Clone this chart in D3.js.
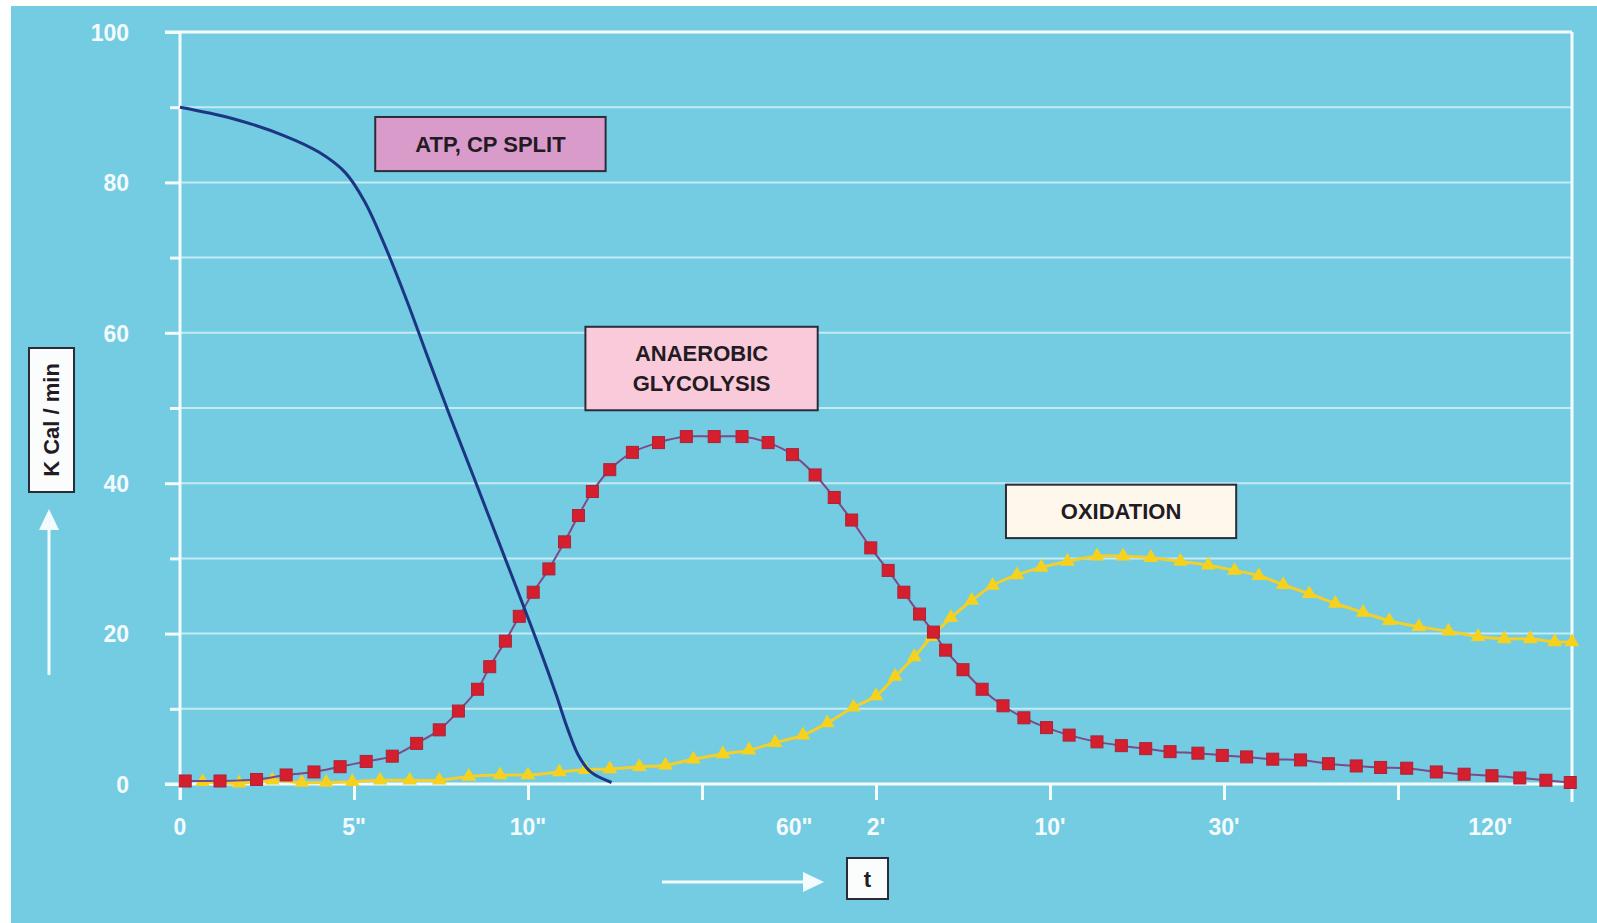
<!DOCTYPE html>
<meta charset="utf-8">
<style type="text/css">
body { margin: 0; background: #fff; }
svg { font-family: "Liberation Sans", Arial, sans-serif; display: block; }
.grid line { stroke: #c4eaf4; stroke-width: 2px; }
.axis path { display: none; }
.axis line { stroke: #f3fbfd; stroke-width: 3px; }
.axis text { fill: #f3fbfd; font-weight: bold; font-size: 23px; }
.box rect { stroke: #2c2c38; stroke-width: 2px; }
.box text { fill: #231a24; font-weight: bold; font-size: 22px; text-anchor: middle; }
</style>
<body>
<script src="https://d3js.org/d3.v7.min.js"></script>
<script>
// x is position along the (non-linear) time axis, in tick steps
let xTicks = [0, 1, 2, 3, 4, 5, 6, 7];
let xLabels = ["0", "5\"", "10\"", "60\"", "2'", "10'", "30'", "120'"];
let xLabelPos = [0, 1, 2, 3.53, 4, 5, 6, 7.53];
let yTicks = [0, 10, 20, 30, 40, 50, 60, 70, 80, 90, 100];

// ATP, CP split
let atpSplit = [[0, 90], [0.3, 88.5], [0.6, 86.2], [0.8, 84], [0.95, 81.3], [1.06, 77.5],
    [1.17, 72], [1.3, 64.5], [1.42, 57], [1.55, 49], [1.69, 40.7], [1.78, 35.3],
    [1.88, 29.3], [1.975, 23.6], [2.07, 17.8], [2.16, 12], [2.23, 7.2], [2.29, 3.8],
    [2.36, 1.6], [2.48, 0.2]];

// anaerobic glycolysis
let glycolysis = [[0.03, 0.4], [0.23, 0.4], [0.44, 0.6], [0.61, 1.2], [0.77, 1.6], [0.92, 2.3],
    [1.07, 3], [1.22, 3.7], [1.36, 5.4], [1.49, 7.2], [1.6, 9.7], [1.71, 12.6], [1.78, 15.6],
    [1.87, 19], [1.95, 22.3], [2.03, 25.5], [2.12, 28.6], [2.21, 32.2], [2.29, 35.7],
    [2.37, 38.9], [2.47, 41.8], [2.6, 44.1], [2.75, 45.4], [2.91, 46.2], [3.07, 46.2],
    [3.23, 46.2], [3.38, 45.4], [3.52, 43.8], [3.65, 41.1], [3.76, 38.1], [3.86, 35.1],
    [3.97, 31.4], [4.07, 28.4], [4.16, 25.5], [4.25, 22.6], [4.33, 20.2], [4.4, 17.8],
    [4.5, 15.2], [4.61, 12.6], [4.73, 10.4], [4.85, 8.8], [4.98, 7.5], [5.11, 6.5],
    [5.27, 5.6], [5.41, 5.1], [5.55, 4.7], [5.69, 4.3], [5.85, 4.1], [5.99, 3.8],
    [6.13, 3.6], [6.28, 3.3], [6.44, 3.2], [6.6, 2.7], [6.76, 2.4], [6.9, 2.2], [7.05, 2.1],
    [7.22, 1.6], [7.38, 1.3], [7.54, 1.1], [7.7, 0.8], [7.85, 0.5], [7.99, 0.2]];

// oxidation
let oxidation = [[0.13, 0.3], [0.34, 0.1], [0.53, 0.5], [0.7, 0.2], [0.84, 0.2], [0.99, 0.3],
    [1.15, 0.5], [1.32, 0.5], [1.49, 0.5], [1.66, 1], [1.84, 1.2], [2, 1.2], [2.18, 1.6],
    [2.33, 1.9], [2.47, 2], [2.64, 2.3], [2.79, 2.5], [2.95, 3.3], [3.12, 4], [3.27, 4.5],
    [3.42, 5.5], [3.58, 6.5], [3.72, 8.1], [3.87, 10.2], [4, 11.7], [4.11, 14.3], [4.22, 16.9],
    [4.32, 19.6], [4.43, 22.1], [4.55, 24.4], [4.67, 26.4], [4.81, 27.8], [4.95, 28.8],
    [5.1, 29.6], [5.27, 30.3], [5.42, 30.3], [5.58, 30.1], [5.75, 29.6], [5.91, 29.1],
    [6.06, 28.4], [6.2, 27.7], [6.34, 26.5], [6.49, 25.3], [6.64, 24], [6.8, 22.8],
    [6.95, 21.7], [7.12, 20.9], [7.29, 20.3], [7.46, 19.6], [7.61, 19.3], [7.76, 19.3],
    [7.9, 18.9], [8, 18.9]];

let W = 1597, H = 923;

let svg = d3.select("body").append("svg")
    .attr("width", W)
    .attr("height", H);

// blue panel, white strip top and left
svg.append("rect")
    .attr("x", 11).attr("y", 6)
    .attr("width", W - 11).attr("height", H - 6)
    .attr("fill", "#73cce2");

let x = d3.scaleLinear().domain([0, 8]).range([180, 1572]);
let y = d3.scaleLinear().domain([0, 100]).range([784, 32]);

// gridlines
svg.append("g").attr("class", "grid")
    .selectAll("line")
    .data(yTicks.filter(d => d > 0 && d < 100))
    .join("line")
    .attr("x1", x(0)).attr("x2", x(8))
    .attr("y1", d => y(d)).attr("y2", d => y(d));

// y axis
let yAxis = svg.append("g").attr("class", "axis")
    .attr("transform", `translate(${x(0)},0)`)
    .call(d3.axisLeft(y).tickValues(yTicks).tickSize(15).tickPadding(36)
        .tickFormat(d => d % 20 === 0 ? d : ""));
yAxis.selectAll(".tick line").attr("x2", d => d % 20 === 0 ? -15 : -10);
yAxis.selectAll(".tick text").attr("dy", "0.36em");

// top line and right border
svg.append("g").attr("class", "axis").append("line")
    .attr("x1", x(0) - 15).attr("x2", x(8))
    .attr("y1", y(100)).attr("y2", y(100));
svg.append("g").attr("class", "axis").append("line")
    .attr("x1", x(8)).attr("x2", x(8))
    .attr("y1", y(100)).attr("y2", y(0) + 18);
svg.append("g").attr("class", "axis").append("line")
    .attr("x1", x(0)).attr("x2", x(0))
    .attr("y1", y(100)).attr("y2", y(0) + 16);

// x axis
let xAxis = svg.append("g").attr("class", "axis")
    .attr("transform", `translate(0,${y(0)})`)
    .call(d3.axisBottom(x).tickValues(xTicks).tickSize(16).tickFormat(""));
xAxis.append("line")
    .attr("x1", x(0) - 15).attr("x2", x(8));

svg.append("g").attr("class", "axis")
    .selectAll("text")
    .data(xLabels)
    .join("text")
    .attr("x", (d, i) => x(xLabelPos[i]))
    .attr("y", 827)
    .attr("dy", "0.36em")
    .attr("text-anchor", "middle")
    .attr("font-size", 22)
    .text(d => d);

// series
let line = d3.line().x(d => x(d[0])).y(d => y(d[1]));

svg.append("path")
    .datum(oxidation)
    .attr("d", line.curve(d3.curveCatmullRom))
    .attr("fill", "none")
    .attr("stroke", "#f2cf2a")
    .attr("stroke-width", 3);

svg.append("g")
    .selectAll("path")
    .data(oxidation)
    .join("path")
    .attr("transform", d => `translate(${x(d[0])},${y(d[1])})`)
    .attr("d", d3.symbol(d3.symbolTriangle, 95))
    .attr("fill", "#f6d21e");

svg.append("path")
    .datum(glycolysis)
    .attr("d", line.curve(d3.curveCatmullRom))
    .attr("fill", "none")
    .attr("stroke", "#7c4a86")
    .attr("stroke-width", 2);

svg.append("g")
    .selectAll("rect")
    .data(glycolysis)
    .join("rect")
    .attr("x", d => x(d[0]) - 6)
    .attr("y", d => y(d[1]) - 6)
    .attr("width", 12).attr("height", 12)
    .attr("fill", "#d61f2e")
    .attr("stroke", "#a8243a")
    .attr("stroke-width", 1);

svg.append("path")
    .datum(atpSplit)
    .attr("d", line.curve(d3.curveCatmullRom))
    .attr("fill", "none")
    .attr("stroke", "#1c3584")
    .attr("stroke-width", 3);

// annotation boxes (in data units)
function box(x0, x1, yTop, yBot, fill, lines) {
    let g = svg.append("g").attr("class", "box");
    g.append("rect")
        .attr("x", x(x0)).attr("y", y(yTop))
        .attr("width", x(x1) - x(x0)).attr("height", y(yBot) - y(yTop))
        .attr("fill", fill);
    let cx = (x(x0) + x(x1)) / 2, cy = (y(yTop) + y(yBot)) / 2;
    g.selectAll("text").data(lines).join("text")
        .attr("x", cx)
        .attr("y", (d, i) => cy + (i - (lines.length - 1) / 2) * 30)
        .attr("dy", "0.36em")
        .text(d => d);
}
box(1.122, 2.446, 88.7, 81.5, "#d99cca", ["ATP, CP SPLIT"]);
box(2.33, 3.665, 60.8, 49.7, "#f9cad9", ["ANAEROBIC", "GLYCOLYSIS"]);
box(4.747, 6.07, 39.8, 32.7, "#fef8ec", ["OXIDATION"]);

// axis titles with arrows
let yt = svg.append("g").attr("class", "box");
yt.append("rect").attr("x", 29).attr("y", 348).attr("width", 45).attr("height", 144).attr("fill", "#fbfdfd");
yt.append("text")
    .attr("transform", "translate(51,420) rotate(-90)")
    .attr("dy", "0.36em")
    .attr("font-size", 19)
    .text("K Cal / min");

let xt = svg.append("g").attr("class", "box");
xt.append("rect").attr("x", 847).attr("y", 858).attr("width", 41).attr("height", 41).attr("fill", "#fbfdfd");
xt.append("text").attr("x", 867.5).attr("y", 879).attr("dy", "0.36em").attr("font-size", 19).text("t");

let arrows = svg.append("g").attr("fill", "#f3fbfd").attr("stroke", "#f3fbfd");
arrows.append("line").attr("x1", 49).attr("x2", 49).attr("y1", 675).attr("y2", 525).attr("stroke-width", 3);
arrows.append("path").attr("d", "M49,509 L59,530 L39,530 Z").attr("stroke", "none");
arrows.append("line").attr("x1", 662).attr("x2", 808).attr("y1", 882).attr("y2", 882).attr("stroke-width", 3);
arrows.append("path").attr("d", "M824,882 L803,872 L803,892 Z").attr("stroke", "none");
</script>
</body>
